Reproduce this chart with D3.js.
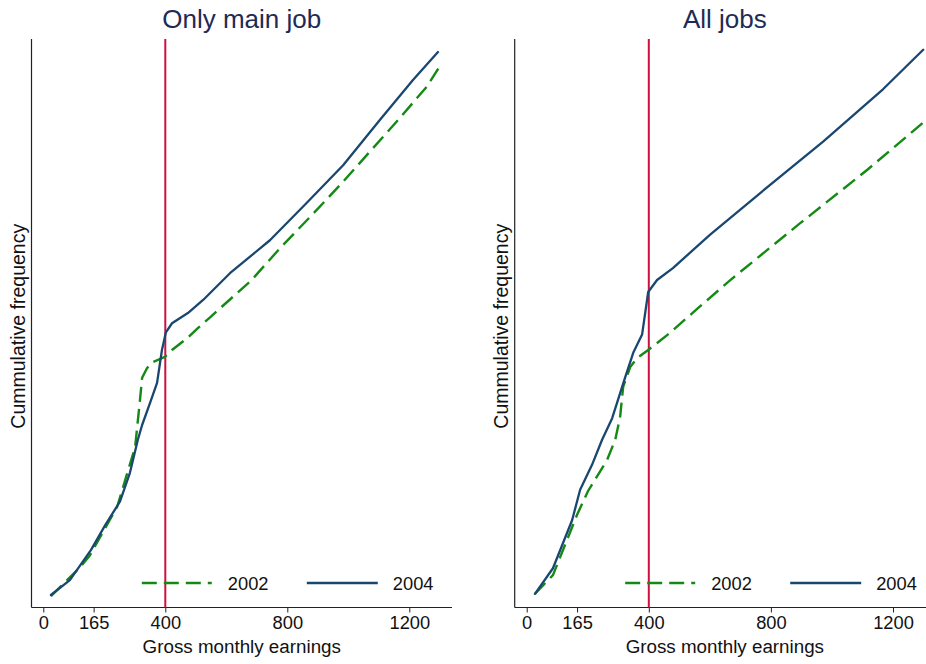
<!DOCTYPE html>
<html>
<head>
<meta charset="utf-8">
<script src="https://cdn.jsdelivr.net/npm/d3@7"></script>
<style>
  html, body { margin: 0; padding: 0; background: #ffffff; }
  svg { display: block; font-family: "Liberation Sans", Arial, sans-serif; }
</style>
</head>
<body>
<svg id="chart" width="926" height="664"></svg>
<script>
// Panel titles and axis text
const panelTitles = ["Only main job", "All jobs"];
const xAxisTitle = "Gross monthly earnings";
const yAxisTitle = "Cummulative frequency";
const xTickValues = [0, 165, 400, 800, 1200];
const legendLabels = ["2002", "2004"];
const thresholdEarnings = 400;

// Cumulative frequency (relative units) against gross monthly earnings
const mainJob2002 = [
  [25, 2.0], [121, 7.1], [153, 9.2], [242, 17.7], [301, 28.2], [317, 36.5],
  [324, 40.4], [340, 42.1], [360, 43.2], [399, 44.1], [422, 45.3], [470, 47.3],
  [504, 49.0], [546, 51.0], [579, 52.6], [683, 57.6], [776, 63.2], [880, 69.0],
  [978, 74.6], [1071, 80.2], [1164, 85.8], [1257, 91.6], [1295, 94.8]
];
const mainJob2004 = [
  [25, 2.2], [87, 4.8], [156, 10.1], [203, 14.5], [251, 18.6], [284, 23.7],
  [310, 29.5], [324, 32.1], [350, 36.0], [373, 39.5], [389, 45.3], [402, 48.4],
  [422, 50.0], [474, 51.8], [524, 54.1], [612, 58.8], [743, 64.6], [864, 71.2],
  [983, 77.8], [1104, 85.8], [1212, 92.8], [1294, 97.7]
];
const allJobs2002 = [
  [27, 2.4], [86, 5.7], [165, 16.3], [201, 20.5], [263, 25.9], [290, 29.5],
  [306, 33.5], [316, 38.8], [339, 42.3], [362, 43.9], [398, 45.3], [460, 47.9],
  [562, 52.7], [667, 57.6], [896, 67.6], [1116, 77.0], [1299, 85.3]
];
const allJobs2004 = [
  [27, 2.4], [86, 6.9], [149, 15.4], [175, 20.7], [214, 25.1], [247, 29.5],
  [280, 33.3], [322, 40.4], [349, 44.8], [378, 48.0], [398, 55.5], [427, 57.6],
  [479, 59.7], [601, 65.6], [765, 72.9], [972, 82.0], [1168, 91.2], [1299, 98.1]
];

const panelSeries = [
  [mainJob2002, mainJob2004],
  [allJobs2002, allJobs2004]
];

const colors = { s2002: "#138a13", s2004: "#1a476f", threshold: "#cc1040", title: "#1e2b55", axis: "#222222" };
const dash2002 = "15,7";

const svg = d3.select("#chart");

// Each panel: frame left edge, right edge, and the pixel span for 0..1200
const panels = [
  { left: 31.5, right: 452, x0: 43.3, x1: 409.3 },
  { left: 514.7, right: 935, x0: 526.7, x1: 893 }
];
const plotTop = 39, plotBottom = 607.5;

const y = d3.scaleLinear().domain([0, 100]).range([plotBottom, plotTop]);

panels.forEach((p, i) => {
  const x = d3.scaleLinear().domain([0, 1200]).range([p.x0, p.x1]);
  const g = svg.append("g");
  const midX = (p.left + p.right) / 2;

  // Title
  g.append("text")
    .attr("x", midX)
    .attr("y", 28)
    .attr("text-anchor", "middle")
    .attr("font-size", 26)
    .attr("fill", colors.title)
    .text(panelTitles[i]);

  // Left axis line (no ticks)
  g.append("line")
    .attr("x1", p.left).attr("x2", p.left)
    .attr("y1", plotTop).attr("y2", plotBottom)
    .attr("stroke", colors.axis).attr("stroke-width", 1.2);

  // Bottom axis
  const xAxis = d3.axisBottom(x).tickValues(xTickValues).tickSize(5).tickPadding(4)
    .tickFormat(d3.format("d"));
  const ax = g.append("g").attr("transform", `translate(0,${plotBottom})`).call(xAxis);
  ax.select(".domain").remove();
  ax.selectAll(".tick line").attr("stroke", colors.axis);
  ax.selectAll(".tick text").attr("font-size", 18.3).attr("fill", "#111").attr("font-family", "Liberation Sans, Arial, sans-serif");
  g.append("line")
    .attr("x1", p.left).attr("x2", p.right)
    .attr("y1", plotBottom).attr("y2", plotBottom)
    .attr("stroke", colors.axis).attr("stroke-width", 1.2);

  // Axis titles
  g.append("text")
    .attr("x", midX)
    .attr("y", 653)
    .attr("text-anchor", "middle")
    .attr("font-size", 18.8)
    .attr("fill", "#111")
    .text(xAxisTitle);
  g.append("text")
    .attr("transform", `translate(${p.left - 7},${(plotTop + plotBottom) / 2 + 3}) rotate(-90)`)
    .attr("text-anchor", "middle")
    .attr("font-size", 19.5)
    .attr("fill", "#111")
    .text(yAxisTitle);

  // Threshold line
  g.append("line")
    .attr("x1", x(thresholdEarnings)).attr("x2", x(thresholdEarnings))
    .attr("y1", plotTop).attr("y2", plotBottom)
    .attr("stroke", colors.threshold).attr("stroke-width", 2);

  const line = d3.line().x(d => x(d[0])).y(d => y(d[1]));

  const [s2002, s2004] = panelSeries[i];
  g.append("path").datum(s2002)
    .attr("d", line).attr("fill", "none")
    .attr("stroke", colors.s2002).attr("stroke-width", 2.4)
    .attr("stroke-dasharray", dash2002);
  g.append("path").datum(s2004)
    .attr("d", line).attr("fill", "none")
    .attr("stroke", colors.s2004).attr("stroke-width", 2.3)
    .attr("stroke-linejoin", "round").attr("stroke-linecap", "round");

  // Legend
  const ly = 583;
  const lx = p.x0 + 98.5;
  g.append("line")
    .attr("x1", lx).attr("x2", lx + 70).attr("y1", ly).attr("y2", ly)
    .attr("stroke", colors.s2002).attr("stroke-width", 2.4)
    .attr("stroke-dasharray", dash2002);
  g.append("text")
    .attr("x", lx + 86).attr("y", ly + 7)
    .attr("font-size", 18.3).attr("fill", "#111")
    .text(legendLabels[0]);
  g.append("line")
    .attr("x1", lx + 165).attr("x2", lx + 236).attr("y1", ly).attr("y2", ly)
    .attr("stroke", colors.s2004).attr("stroke-width", 2.3);
  g.append("text")
    .attr("x", lx + 251).attr("y", ly + 7)
    .attr("font-size", 18.3).attr("fill", "#111")
    .text(legendLabels[1]);
});
</script>
</body>
</html>
